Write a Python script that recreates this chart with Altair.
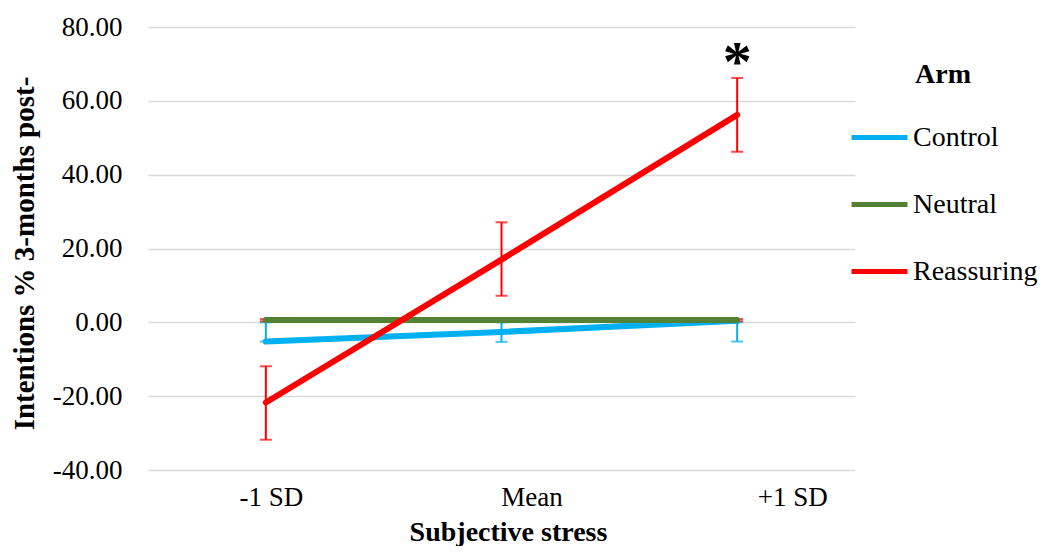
import altair as alt
import pandas as pd

categories = ["-1 SD", "Mean", "+1 SD"]
arms = ["Control", "Neutral", "Reassuring"]

control = [-5.2, -2.6, 0.4]
neutral = [0.6, 0.6, 0.6]
reassuring = [-21.7, 17.0, 56.2]

control_low = [-5.2, -5.3, -5.2]
control_high = [0.0, 0.0, 0.0]
neutral_low = [0.3, 0.3, 0.3]
neutral_high = [0.9, 0.9, 0.9]
reassuring_low = [-31.8, 7.2, 46.2]
reassuring_high = [-11.9, 27.1, 66.2]

y_ticks = [-40, -20, 0, 20, 40, 60, 80]

colors = ["#00B0F0", "#548235", "#FF0000"]
FONT = "Liberation Serif"

rows = []
for arm, vals, lo, hi in [
    ("Control", control, control_low, control_high),
    ("Neutral", neutral, neutral_low, neutral_high),
    ("Reassuring", reassuring, reassuring_low, reassuring_high),
]:
    for c, v, l, h in zip(categories, vals, lo, hi):
        rows.append({"Stress": c, "Arm": arm, "value": v, "low": l, "high": h})
df = pd.DataFrame(rows)

annot = pd.DataFrame({"Stress": ["+1 SD"], "value": [reassuring_high[2]], "label": ["*"]})

x_enc = alt.X(
    "Stress:N",
    sort=categories,
    scale=alt.Scale(type="point", padding=0.5, domain=categories),
    axis=alt.Axis(
        title="Subjective stress",
        domain=False,
        ticks=False,
        labelAngle=0,
        labelFont=FONT,
        labelFontSize=27,
        labelColor="#000000",
        labelPadding=14,
        labelBaseline="top",
        labelOffset={
            "condition": [
                {"test": "datum.value === 'Mean'", "value": 30},
                {"test": "datum.value === '+1 SD'", "value": 55},
            ],
            "value": 5,
        },
        titleFont=FONT,
        titleFontSize=28,
        titleFontWeight="bold",
        titleColor="#000000",
        titleX=360,
        titleY=70,
        titleAlign="center",
        titleBaseline="alphabetic",
    ),
)

y_scale = alt.Scale(domain=[-40, 80], nice=False, zero=False)
y_enc = alt.Y(
    "value:Q",
    scale=y_scale,
    axis=alt.Axis(
        title="Intentions % 3-months post-",
        values=y_ticks,
        labelExpr="replace(format(datum.value, '.2f'), '\u2212', '-')",
        domain=False,
        ticks=False,
        grid=True,
        gridColor="#D9D9D9",
        gridWidth=1.5,
        labelFont=FONT,
        labelFontSize=27,
        labelColor="#000000",
        labelPadding=26,
        titleFont=FONT,
        titleFontSize=29,
        titleFontWeight="bold",
        titleColor="#000000",
        titleAngle=270,
        titleX=-115,
        titleY=226,
        titleAlign="center",
        titleBaseline="alphabetic",
    ),
)

base = alt.Chart(df)

def errbars(filter_expr, color, width):
    b = base.transform_filter(filter_expr)
    rule = b.mark_rule(color=color, strokeWidth=width).encode(
        x=x_enc, y=alt.Y("low:Q", scale=y_scale), y2="high:Q"
    )
    cap_lo = b.mark_tick(color=color, size=12, thickness=width).encode(
        x=x_enc, y=alt.Y("low:Q", scale=y_scale)
    )
    cap_hi = b.mark_tick(color=color, size=12, thickness=width).encode(
        x=x_enc, y=alt.Y("high:Q", scale=y_scale)
    )
    return [rule, cap_lo, cap_hi]

err_control = errbars("datum.Arm === 'Control'", colors[0], 2)
err_neutral = errbars("datum.Arm === 'Neutral'", colors[2], 2)
err_reass = errbars("datum.Arm === 'Reassuring'", colors[2], 2)

lines = base.mark_line(strokeWidth=6, strokeCap="round").encode(
    x=x_enc,
    y=y_enc,
    color=alt.Color(
        "Arm:N",
        scale=alt.Scale(domain=arms, range=colors),
        legend=alt.Legend(
            title="Arm",
            orient="none",
            legendX=701,
            legendY=34,
            symbolType="stroke",
            symbolSize=3136,
            symbolStrokeWidth=5,
            labelFont=FONT,
            labelFontSize=28,
            labelColor="#000000",
            labelOffset=3,
            titleFont=FONT,
            titleFontSize=28,
            titleFontWeight="bold",
            titleColor="#000000",
            titleAnchor="middle",
            titlePadding=18,
            rowPadding=22,
            padding=0,
        ),
    ),
    order=alt.Order("Arm:N"),
)

star = alt.Chart(annot).mark_text(
    font=FONT, fontSize=58, fontWeight="bold", color="#000000", baseline="alphabetic", dy=3
).encode(x=x_enc, y=alt.Y("value:Q", scale=y_scale), text="label:N")

chart = alt.layer(
    *err_control, *err_neutral, lines, *err_reass, star
).properties(
    width=707,
    height=443,
    padding={"left": 140, "top": 19, "right": 187, "bottom": 76},
    autosize=alt.AutoSizeParams(type="none"),
    background="#FFFFFF",
).configure_view(stroke=None)

chart.save("out.html", embed_options={"renderer": "svg", "actions": False})
